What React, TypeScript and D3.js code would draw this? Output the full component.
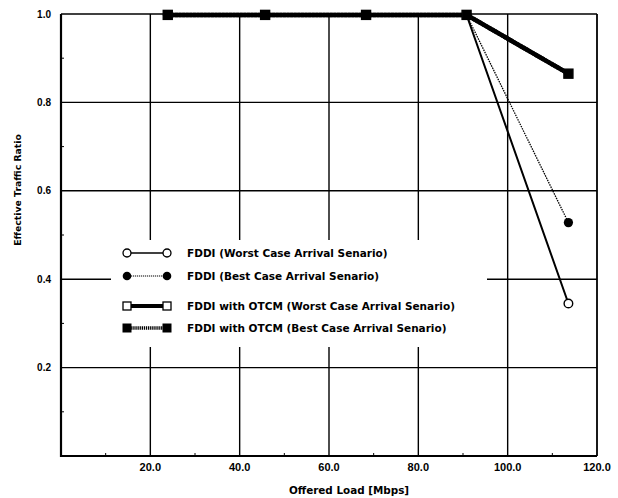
import React from 'react';
import * as d3 from 'd3';

// offered load (Mbps) for each simulated point
const loads = [23.9, 45.7, 68.3, 90.8, 113.6];
const fddiWorst = [0.998, 0.998, 0.998, 0.998, 0.345];
const fddiBest = [0.998, 0.998, 0.998, 0.998, 0.528];
const otcmWorst = [0.998, 0.998, 0.998, 0.998, 0.865];
const otcmBest = [0.998, 0.998, 0.998, 0.998, 0.865];

const xTicks = [20, 40, 60, 80, 100, 120];
const yTicks = [0.2, 0.4, 0.6, 0.8, 1.0];
const xMinor = [10, 30, 50, 70, 90, 110];
const yMinor = [0.1, 0.3, 0.5, 0.7, 0.9];

const legendLabels = [
  'FDDI (Worst Case Arrival Senario)',
  'FDDI (Best Case Arrival Senario)',
  'FDDI with OTCM (Worst Case Arrival Senario)',
  'FDDI with OTCM (Best Case Arrival Senario)',
];

const W = 618;
const H = 498;
const font = '"Liberation Sans", Arial, Helvetica, sans-serif';
const wide = '"DejaVu Sans", Verdana, sans-serif';

export default function App() {
  const x = d3.scaleLinear().domain([0, 120]).range([61, 597]);
  const y = d3.scaleLinear().domain([0, 1]).range([456, 14]);

  const line = (vals: number[]) =>
    d3.line<number>()
      .x((_, i) => x(loads[i]))
      .y(d => y(d))(vals) || '';

  const pts = (vals: number[]) => vals.map((v, i) => [x(loads[i]), y(v)]);

  // legend box
  const lg = { x: 111, y: 240, w: 376, h: 107 };
  const rows = [253, 276, 306, 328];
  const lx1 = 127, lx2 = 167, tx = 187;

  const sq = 9;

  return (
    <svg width={W} height={H} style={{ position: 'absolute', left: 0, top: 0, background: '#fff' }}
      fontFamily={font} fontWeight="bold">
      {/* grid */}
      {xTicks.slice(0, -1).map(t => (
        <line key={'gx' + t} x1={x(t)} x2={x(t)} y1={y(0)} y2={y(1)} stroke="#000" strokeWidth={1.4} />
      ))}
      {yTicks.slice(0, -1).map(t => (
        <line key={'gy' + t} x1={x(0)} x2={x(120)} y1={y(t)} y2={y(t)} stroke="#000" strokeWidth={1.4} />
      ))}
      {/* minor ticks */}
      {xMinor.map(t => (
        <line key={'mx' + t} x1={x(t)} x2={x(t)} y1={y(0)} y2={y(0) - 3} stroke="#000" strokeWidth={1} />
      ))}
      {yMinor.map(t => (
        <line key={'my' + t} x1={x(0)} x2={x(0) + 3} y1={y(t)} y2={y(t)} stroke="#000" strokeWidth={1} />
      ))}
      {/* frame */}
      <line x1={x(0)} x2={x(120)} y1={y(1)} y2={y(1)} stroke="#000" strokeWidth={1.6} />
      <line x1={x(120)} x2={x(120)} y1={y(0)} y2={y(1)} stroke="#000" strokeWidth={1.8} />
      <line x1={x(0)} x2={x(0)} y1={y(0) + 1} y2={y(1)} stroke="#000" strokeWidth={2.2} />
      <line x1={x(0) - 1} x2={x(120)} y1={y(0)} y2={y(0)} stroke="#000" strokeWidth={2.2} />

      {/* legend background hides grid */}
      <rect x={lg.x} y={lg.y} width={lg.w} height={lg.h} fill="#fff" />

      {/* tick labels */}
      {yTicks.map(t => (
        <text key={'ly' + t} x={51} y={y(t)} dy="0.35em" textAnchor="end" fontSize={10}>
          {t.toFixed(1)}
        </text>
      ))}
      {xTicks.map(t => (
        <text key={'lx' + t} x={x(t)} y={471} textAnchor="middle" fontSize={11}>
          {t.toFixed(1)}
        </text>
      ))}
      <text x={349} y={494} textAnchor="middle" fontSize={10.4} fontFamily={wide}>Offered Load [Mbps]</text>
      <text transform="translate(21,190) rotate(-90)" textAnchor="middle" fontSize={9.3} fontFamily={wide}>
        Effective Traffic Ratio
      </text>

      {/* series lines */}
      <path d={line(fddiWorst)} fill="none" stroke="#000" strokeWidth={2} />
      <path d={line(fddiBest)} fill="none" stroke="#000" strokeWidth={1.3} strokeDasharray="1.5,1" />
      <path d={line(otcmWorst)} fill="none" stroke="#000" strokeWidth={4.5} />
      <path d={line(otcmBest)} fill="none" stroke="#000" strokeWidth={4.5} strokeDasharray="3,0.6" />

      {/* markers */}
      {pts(fddiWorst).map(([cx, cy], i) => (
        <circle key={'fw' + i} cx={cx} cy={cy} r={4.3} fill="#fff" stroke="#000" strokeWidth={1.4} />
      ))}
      {pts(fddiBest).map(([cx, cy], i) => (
        <circle key={'fb' + i} cx={cx} cy={cy} r={4.6} fill="#000" />
      ))}
      {pts(otcmWorst).map(([cx, cy], i) => (
        <rect key={'ow' + i} x={cx - sq / 2} y={cy - sq / 2} width={sq} height={sq} fill="#fff" stroke="#000" strokeWidth={1.4} />
      ))}
      {pts(otcmBest).map(([cx, cy], i) => (
        <rect key={'ob' + i} x={cx - sq / 2} y={cy - sq / 2} width={sq} height={sq} fill="#000" />
      ))}

      {/* legend */}
      <g>
        <line x1={lx1} x2={lx2} y1={rows[0]} y2={rows[0]} stroke="#000" strokeWidth={1.5} />
        <circle cx={lx1} cy={rows[0]} r={4} fill="#fff" stroke="#000" strokeWidth={1.3} />
        <circle cx={lx2} cy={rows[0]} r={4} fill="#fff" stroke="#000" strokeWidth={1.3} />

        <line x1={lx1} x2={lx2} y1={rows[1]} y2={rows[1]} stroke="#000" strokeWidth={1.2} strokeDasharray="1.2,0.8" />
        <circle cx={lx1} cy={rows[1]} r={4.3} fill="#000" />
        <circle cx={lx2} cy={rows[1]} r={4.3} fill="#000" />

        <line x1={lx1} x2={lx2} y1={rows[2]} y2={rows[2]} stroke="#000" strokeWidth={4} />
        <rect x={lx1 - 4} y={rows[2] - 4} width={8} height={8} fill="#fff" stroke="#000" strokeWidth={1.3} />
        <rect x={lx2 - 4} y={rows[2] - 4} width={8} height={8} fill="#fff" stroke="#000" strokeWidth={1.3} />

        <line x1={lx1} x2={lx2} y1={rows[3]} y2={rows[3]} stroke="#000" strokeWidth={3.5} strokeDasharray="1.3,0.8" />
        <rect x={lx1 - 4.5} y={rows[3] - 4.5} width={9} height={9} fill="#000" />
        <rect x={lx2 - 4.5} y={rows[3] - 4.5} width={9} height={9} fill="#000" />

        {legendLabels.map((l, i) => (
          <text key={l} x={tx} y={rows[i]} dy="0.35em" fontSize={10.5} fontFamily={wide}>{l}</text>
        ))}
      </g>
    </svg>
  );
}
